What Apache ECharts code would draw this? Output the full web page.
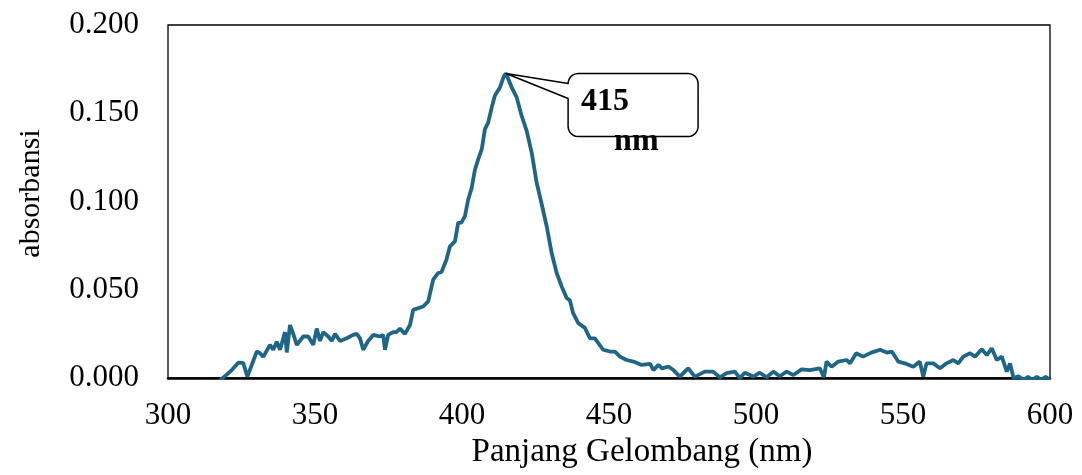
<!DOCTYPE html>
<html>
<head>
<meta charset="utf-8">
<script src="https://cdn.jsdelivr.net/npm/echarts@6/dist/echarts.min.js"></script>
<style>
  html, body { margin: 0; padding: 0; background: #fff; }
  #chart { width: 1082px; height: 475px; }
</style>
</head>
<body>
<div id="chart"></div>
<script>
// spektrum serapan
var wavelength = [316, 318, 319, 321.7, 323.9, 325.6, 327, 330.2, 331.3, 332.4, 334.7, 335.8, 337, 338.1, 339.8, 340.4,
	341.5, 342.6, 343.8, 346, 347.7, 349.4, 350.6, 351.7, 352.8, 354.5, 355.7, 356.8, 358.5, 360.8, 363, 364.2,
	365.3, 366.4, 368.1, 369.8, 372.1, 373.2, 373.8, 374.9, 376.6, 377.7, 378.9, 380.6, 382.3, 383.4, 386.8, 388.5,
	390.2, 391.9, 393, 394.7, 395.9, 397.6, 398.7, 399.8, 401, 402.1, 403.3, 404.4, 405.5, 406.7, 407.8, 408.9,
	410.1, 411.2, 412.9, 414.3, 415, 416.9, 418.6, 420.2, 422, 423.7, 425.4, 427, 428.8, 430.5, 432.2, 433.9,
	435.6, 436.7, 437.8, 439.6, 441.8, 443.5, 445.2, 448, 450.3, 452, 453.7, 456, 458.3, 461.1, 464, 465.1,
	466.8, 468, 470.2, 471.9, 474.1, 476.9, 479.2, 482.6, 485.4, 487.7, 490, 492.8, 494.5, 496.2, 499.1, 501.3,
	503.6, 505.9, 508.1, 510.4, 512.7, 515.5, 518.3, 521.7, 523.1, 524, 525.7, 528, 530.8, 532, 534.1, 536.4,
	539.2, 542.2, 544.5, 546.2, 548.4, 550.6, 553.5, 555.7, 556.9, 558, 560.3, 562.6, 564.8, 567.1, 568.8, 570.5,
	572.8, 574.5, 576.8, 578.5, 580.2, 581.9, 583.6, 585.3, 586.4, 587.6, 589.3, 591, 592.5, 594, 595.5, 597,
	598.5, 600];
var absorbance = [-0.003, -0.001, 0.0005, 0.0045, 0.0087, 0.0085, 0.0008, 0.015, 0.014, 0.012, 0.0188, 0.016, 0.0206, 0.016, 0.026, 0.0145,
	0.030, 0.025, 0.0188, 0.0235, 0.0235, 0.0188, 0.028, 0.021, 0.026, 0.0235, 0.021, 0.025, 0.021, 0.0225, 0.0244, 0.025,
	0.0225, 0.016, 0.021, 0.0244, 0.0235, 0.0244, 0.016, 0.0244, 0.026, 0.026, 0.028, 0.025, 0.030, 0.0386, 0.0405, 0.0434,
	0.0557, 0.0595, 0.060, 0.067, 0.0746, 0.0774, 0.0879, 0.088, 0.0917, 0.101, 0.1078, 0.118, 0.1239, 0.1295, 0.141, 0.1447,
	0.1532, 0.160, 0.1646, 0.1712, 0.1725, 0.1646, 0.159, 0.149, 0.140, 0.1277, 0.1106, 0.0993, 0.086, 0.0708, 0.0595, 0.0519,
	0.0453, 0.044, 0.0367, 0.031, 0.0284, 0.0225, 0.0225, 0.016, 0.015, 0.015, 0.0121, 0.0102, 0.0093, 0.0074, 0.008, 0.0045,
	0.0074, 0.0055, 0.0065, 0.0045, 0.0008, 0.0055, 0.0008, 0.0036, 0.0036, 0.0004, 0.0027, 0.0036, 0, 0.003, 0.0008, 0.003,
	0.0004, 0.0036, 0.001, 0.0036, 0.0017, 0.0049, 0.0045, 0.0055, 0.0004, 0.0093, 0.0064, 0.0093, 0.0102, 0.0083, 0.014, 0.0121,
	0.0144, 0.016, 0.0144, 0.015, 0.0093, 0.0083, 0.0064, 0.0093, 0.0008, 0.0083, 0.0083, 0.0055, 0.0083, 0.0102, 0.0083, 0.0121,
	0.014, 0.0121, 0.0163, 0.013, 0.0168, 0.0102, 0.0121, 0.0036, 0.0083, 0, 0.001, -0.001, 0.0006, -0.001, 0.0006, -0.001,
	0.0006, -0.001];
var xTicks = [300, 350, 400, 450, 500, 550, 600];
var yTicks = [0, 0.05, 0.1, 0.15, 0.2];
var peakText = '415';
var peakUnit = 'nm';

var serif = "'Liberation Serif', 'Times New Roman', serif";
var lineColor = '#1f6586';

var points = [];
var peakIdx = 0;
for (var i = 0; i < wavelength.length; i++) {
	points.push([wavelength[i], absorbance[i]]);
	if (absorbance[i] > absorbance[peakIdx]) {
		peakIdx = i;
	}
}

var myChart = echarts.init(document.getElementById('chart'));
var option = {
	animation: false,
	backgroundColor: '#fff',
	grid: {
		left: 168,
		right: 32,
		top: 25,
		bottom: 97,
		show: true,
		borderColor: '#000',
		borderWidth: 1.3,
		containLabel: false
	},
	xAxis: {
		type: 'value',
		min: xTicks[0],
		max: xTicks[xTicks.length - 1],
		interval: xTicks[1] - xTicks[0],
		name: 'Panjang Gelombang (nm)',
		nameLocation: 'middle',
		nameGap: 57,
		nameTextStyle: {
			fontFamily: serif,
			fontSize: 33,
			color: '#000',
			padding: [0, 0, 0, 66]
		},
		axisLine: { show: true, onZero: false, lineStyle: { color: '#000', width: 2.5 } },
		axisTick: { show: false },
		splitLine: { show: false },
		axisLabel: {
			margin: 22,
			fontFamily: serif,
			fontSize: 31,
			color: '#000'
		}
	},
	yAxis: {
		type: 'value',
		min: yTicks[0],
		max: yTicks[yTicks.length - 1],
		interval: yTicks[1] - yTicks[0],
		name: 'absorbansi',
		nameLocation: 'middle',
		nameGap: 122,
		nameRotate: 90,
		nameTextStyle: {
			fontFamily: serif,
			fontSize: 30,
			color: '#000',
			padding: [0, 0, 0, 16]
		},
		axisLine: { show: false },
		axisTick: { show: false },
		splitLine: { show: false },
		axisLabel: {
			margin: 29,
			fontFamily: serif,
			fontSize: 31,
			color: '#000',
			formatter: function (v) { return v.toFixed(3); }
		}
	},
	series: [{
		type: 'line',
		data: points,
		showSymbol: false,
		smooth: false,
		clip: true,
		lineStyle: { color: lineColor, width: 3.8 }
	}]
};
myChart.setOption(option);

// label callout at the peak
var tip = myChart.convertToPixel({ gridIndex: 0 }, points[peakIdx]);
var x0 = tip[0] + 62, x1 = tip[0] + 192;
var y0 = tip[1], y1 = tip[1] + 63;
var r = 10, p1 = 10, p2 = 25;

function corner(cx, cy, a0, a1, out) {
	for (var k = 0; k <= 6; k++) {
		var a = a0 + (a1 - a0) * k / 6;
		out.push([cx + r * Math.cos(a), cy + r * Math.sin(a)]);
	}
}
var box = [[tip[0], tip[1]], [x0, y0 + p1]];
corner(x0 + r, y0 + r, Math.PI, Math.PI * 1.5, box);
corner(x1 - r, y0 + r, Math.PI * 1.5, Math.PI * 2, box);
corner(x1 - r, y1 - r, 0, Math.PI * 0.5, box);
corner(x0 + r, y1 - r, Math.PI * 0.5, Math.PI, box);
box.push([x0, y0 + p2]);

myChart.setOption({
	graphic: [
		{
			type: 'polygon',
			shape: { points: box },
			style: { fill: '#fff', stroke: '#000', lineWidth: 1.5, lineJoin: 'round' },
			z: 100
		},
		{
			type: 'text',
			x: x0 + 13,
			y: y0 + 44,
			style: {
				text: peakText,
				font: 'bold 32px ' + serif,
				fill: '#000',
				textVerticalAlign: 'bottom'
			},
			z: 101
		},
		{
			type: 'text',
			x: x0 + 46,
			y: y0 + 84,
			style: {
				text: peakUnit,
				font: 'bold 32px ' + serif,
				fill: '#000',
				textVerticalAlign: 'bottom'
			},
			z: 101
		}
	]
});
</script>
</body>
</html>
